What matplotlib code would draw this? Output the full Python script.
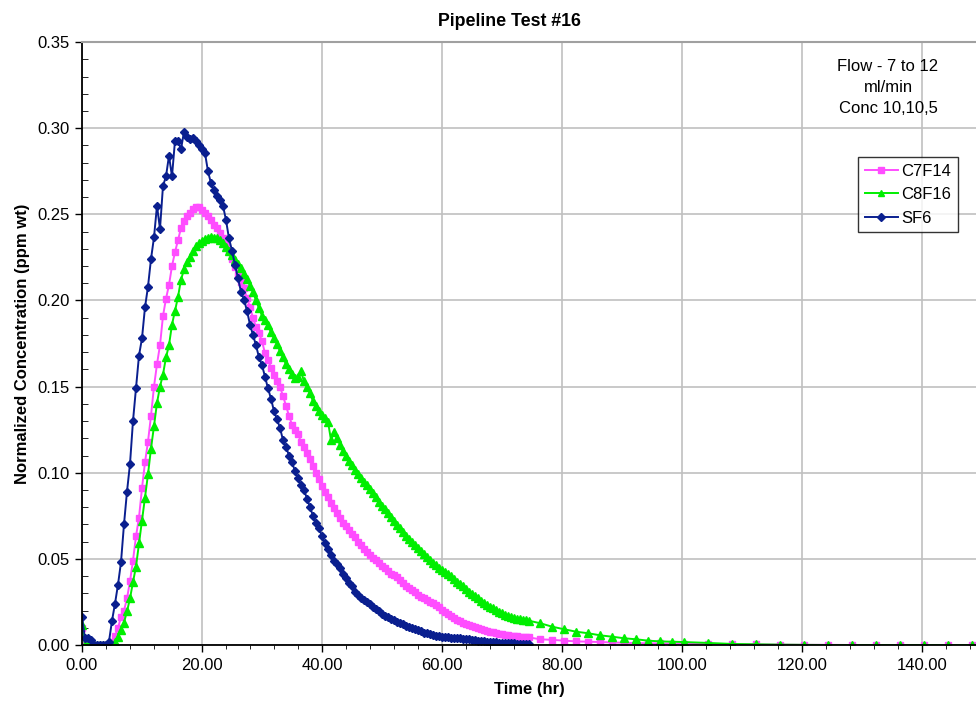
import numpy as np
import matplotlib
matplotlib.use("Agg")
import matplotlib.pyplot as plt
from matplotlib.ticker import MultipleLocator, FormatStrFormatter

plt.rcParams['font.family'] = ['Liberation Sans', 'DejaVu Sans']

# sampling times (hr): dense part every 0.5 hr, then sparse tail
t_dense = np.arange(0, 75, 0.5)
t_tail = [76.4, 78.4, 80.4, 82.4, 84.4, 86.4, 88.4, 90.4, 92.4, 94.4, 96.4, 98.4,
          100.4, 104.4, 108.4, 112.4, 116.4, 120.4, 124.4, 128.4, 132.4, 136.4,
          140.4, 144.4, 148.4, 152.4]

sf6 = [0.016, 0.004, 0.004, 0.003, 0.0, 0.0, 0.0, 0.0, 0.0, 0.002,
       0.014, 0.024, 0.035, 0.048, 0.070, 0.089, 0.105, 0.130, 0.149, 0.168,
       0.178, 0.196, 0.208, 0.224, 0.2366, 0.255, 0.2415, 0.2665, 0.272, 0.284,
       0.272, 0.2927, 0.2925, 0.2877, 0.298, 0.295, 0.294, 0.2945, 0.2925, 0.2905,
       0.288, 0.2855, 0.275, 0.268, 0.264, 0.2605, 0.2583, 0.255, 0.2467, 0.236,
       0.229, 0.2206, 0.213, 0.205, 0.2005, 0.194, 0.186, 0.180, 0.174, 0.167,
       0.1625, 0.1557, 0.149, 0.143, 0.1358, 0.131, 0.126, 0.119, 0.115, 0.110,
       0.106, 0.101, 0.097, 0.093, 0.090, 0.085, 0.080, 0.075, 0.071, 0.068,
       0.063, 0.059, 0.0555, 0.052, 0.049, 0.047, 0.0445, 0.041, 0.039, 0.036,
       0.034, 0.031, 0.029, 0.027, 0.026, 0.025, 0.024, 0.022, 0.021, 0.0195,
       0.018, 0.017, 0.016, 0.0152, 0.0143, 0.0135, 0.0126, 0.012, 0.011, 0.0105,
       0.0098, 0.009, 0.0085, 0.008, 0.0072, 0.0068, 0.0062, 0.0058, 0.0053, 0.005,
       0.0048, 0.0046, 0.0044, 0.0042, 0.004, 0.004, 0.0039, 0.0037, 0.0035, 0.0033,
       0.003, 0.0028, 0.0026, 0.0024, 0.0022, 0.002, 0.0018, 0.0016, 0.0015, 0.0014,
       0.0013, 0.0012, 0.0011, 0.001, 0.0009, 0.0008, 0.0007, 0.0006, 0.0005, 0.0004]

c7f14 = [0.010, 0.0, 0.0, 0.0, 0.0, 0.0, 0.0, 0.0, 0.0, 0.0,
         0.002, 0.005, 0.010, 0.016, 0.020, 0.027, 0.037, 0.049, 0.063, 0.074,
         0.091, 0.106, 0.118, 0.133, 0.150, 0.163, 0.174, 0.191, 0.201, 0.209,
         0.220, 0.228, 0.235, 0.242, 0.246, 0.249, 0.251, 0.253, 0.2545, 0.254,
         0.2528, 0.251, 0.249, 0.2465, 0.244, 0.242, 0.239, 0.236, 0.233, 0.2285,
         0.224, 0.2195, 0.215, 0.211, 0.207, 0.2015, 0.196, 0.190, 0.1845, 0.181,
         0.1765, 0.1693, 0.1655, 0.161, 0.157, 0.1535, 0.150, 0.1445, 0.139, 0.133,
         0.128, 0.125, 0.1225, 0.118, 0.115, 0.1115, 0.108, 0.104, 0.100, 0.0965,
         0.0925, 0.089, 0.086, 0.0825, 0.0795, 0.0765, 0.0735, 0.071, 0.069, 0.0665,
         0.0645, 0.0625, 0.060, 0.058, 0.0555, 0.054, 0.052, 0.0505, 0.0495, 0.0475,
         0.046, 0.0445, 0.0428, 0.0415, 0.0405, 0.0395, 0.0375, 0.036, 0.034, 0.033,
         0.0318, 0.0305, 0.0293, 0.028, 0.027, 0.026, 0.025, 0.0242, 0.0233, 0.0222,
         0.0205, 0.019, 0.0178, 0.0168, 0.0158, 0.0148, 0.0138, 0.013, 0.0122, 0.0115,
         0.0108, 0.0102, 0.0096, 0.009, 0.0086, 0.0081, 0.0077, 0.0073, 0.0069, 0.0065,
         0.0062, 0.0059, 0.0057, 0.0054, 0.0052, 0.005, 0.0048, 0.0046, 0.0045, 0.0044]
c7f14_tail = [0.0033, 0.003, 0.0025, 0.0021, 0.0019, 0.0017, 0.0015, 0.0013, 0.0011,
              0.001, 0.0009, 0.0008, 0.0007, 0.0005, 0.0004, 0.0003, 0.0002, 0.0001,
              0.0001, 0.0, 0.0, 0.0, 0.0, 0.0, 0.0, 0.0]

c8f16 = [0.0116, 0.0, 0.0, 0.0, 0.0, 0.0, 0.0, 0.0, 0.0, 0.0,
         0.0, 0.0018, 0.0048, 0.0085, 0.013, 0.0195, 0.027, 0.0365, 0.0455, 0.059,
         0.072, 0.0855, 0.099, 0.114, 0.127, 0.1405, 0.150, 0.157, 0.167, 0.174,
         0.186, 0.194, 0.202, 0.212, 0.218, 0.2225, 0.2255, 0.2288, 0.2315, 0.2332,
         0.2345, 0.2355, 0.2365, 0.2368, 0.236, 0.236, 0.2349, 0.2335, 0.231, 0.229,
         0.2265, 0.2234, 0.221, 0.219, 0.2153, 0.2122, 0.2085, 0.205, 0.200, 0.1955,
         0.1912, 0.1885, 0.1855, 0.1815, 0.178, 0.1748, 0.1705, 0.167, 0.163, 0.160,
         0.1575, 0.155, 0.1555, 0.159, 0.153, 0.1495, 0.146, 0.1415, 0.1385, 0.136,
         0.1335, 0.1318, 0.1296, 0.119, 0.1238, 0.120, 0.1161, 0.1125, 0.1098, 0.107,
         0.1045, 0.1018, 0.099, 0.0967, 0.0948, 0.0927, 0.0905, 0.0882, 0.0857, 0.0832,
         0.0808, 0.0787, 0.0765, 0.0743, 0.0722, 0.0698, 0.0677, 0.0655, 0.0633, 0.0615,
         0.0597, 0.058, 0.0562, 0.0545, 0.0528, 0.0511, 0.0495, 0.0476, 0.0462, 0.0449,
         0.0437, 0.0424, 0.0411, 0.0398, 0.0385, 0.0367, 0.0355, 0.034, 0.0325, 0.031,
         0.0295, 0.0283, 0.027, 0.0258, 0.0245, 0.0233, 0.0222, 0.0213, 0.0203, 0.0194,
         0.0185, 0.0177, 0.017, 0.0163, 0.0158, 0.0153, 0.0149, 0.0146, 0.0143, 0.0141]
c8f16_tail = [0.0126, 0.0106, 0.0091, 0.0077, 0.0068, 0.0056, 0.0048, 0.0039, 0.0033,
              0.0025, 0.0021, 0.0019, 0.0017, 0.0012, 0.0006, 0.0004, 0.0002, 0.0001,
              0.0, 0.0, 0.0, 0.0, 0.0, 0.0, 0.0, 0.0]

t_long = np.concatenate([t_dense, t_tail])

fig = plt.figure(figsize=(9.76, 7.06), dpi=100)
ax = fig.add_axes([0.084, 0.0864, 0.916, 0.854])

ax.plot(t_long, c7f14 + c7f14_tail, color='#ff4dff', lw=1.4, marker='s', ms=5,
        label='C7F14')
ax.plot(t_long, c8f16 + c8f16_tail, color='#00ee00', lw=1.4, marker='^', ms=5.5,
        label='C8F16')
ax.plot(t_dense, sf6, color='#0a1f8f', lw=1.4, marker='D', ms=4.3, label='SF6')

ax.set_xlim(0, 149)
ax.set_ylim(0, 0.35)
ax.xaxis.set_major_locator(MultipleLocator(20))
ax.xaxis.set_minor_locator(MultipleLocator(4))
ax.yaxis.set_major_locator(MultipleLocator(0.05))
ax.yaxis.set_minor_locator(MultipleLocator(0.01))
ax.xaxis.set_major_formatter(FormatStrFormatter('%.2f'))
ax.yaxis.set_major_formatter(FormatStrFormatter('%.2f'))
ax.tick_params(axis='both', which='major', direction='out', length=5, width=1,
               labelsize=12, pad=4)
ax.tick_params(axis='y', which='minor', direction='in', length=4)
ax.tick_params(axis='x', which='minor', direction='out', length=3)
ax.grid(True, which='major', color='#c0c0c0', lw=1.2)
ax.set_axisbelow(True)
ax.spines['right'].set_visible(False)
ax.spines['top'].set_color('#a0a0a0')
ax.spines['top'].set_linewidth(1.5)
for s in ['left', 'bottom']:
    ax.spines[s].set_linewidth(1.3)

ax.set_xlabel('Time (hr)', fontsize=12, fontweight='bold', labelpad=7)
ax.set_ylabel('Normalized Concentration (ppm wt)', fontsize=12,
              fontweight='bold', labelpad=5)
fig.text(0.522, 0.969, 'Pipeline Test #16', ha='center', va='center',
         fontsize=12.8, fontweight='bold')
ax.text(0.9016, 0.925, 'Flow - 7 to 12\nml/min\nConc 10,10,5', transform=ax.transAxes,
        ha='center', va='center', fontsize=12, linespacing=1.5)

leg = ax.legend(loc='upper left', bbox_to_anchor=(0.868, 0.809), fontsize=12,
                frameon=True, fancybox=False, edgecolor='black', handlelength=2.0,
                borderpad=0.4, labelspacing=0.5, handletextpad=0.2,
                borderaxespad=0, markerscale=0.9)
leg.get_frame().set_linewidth(1.0)

fig.savefig('out.png', dpi=100)
